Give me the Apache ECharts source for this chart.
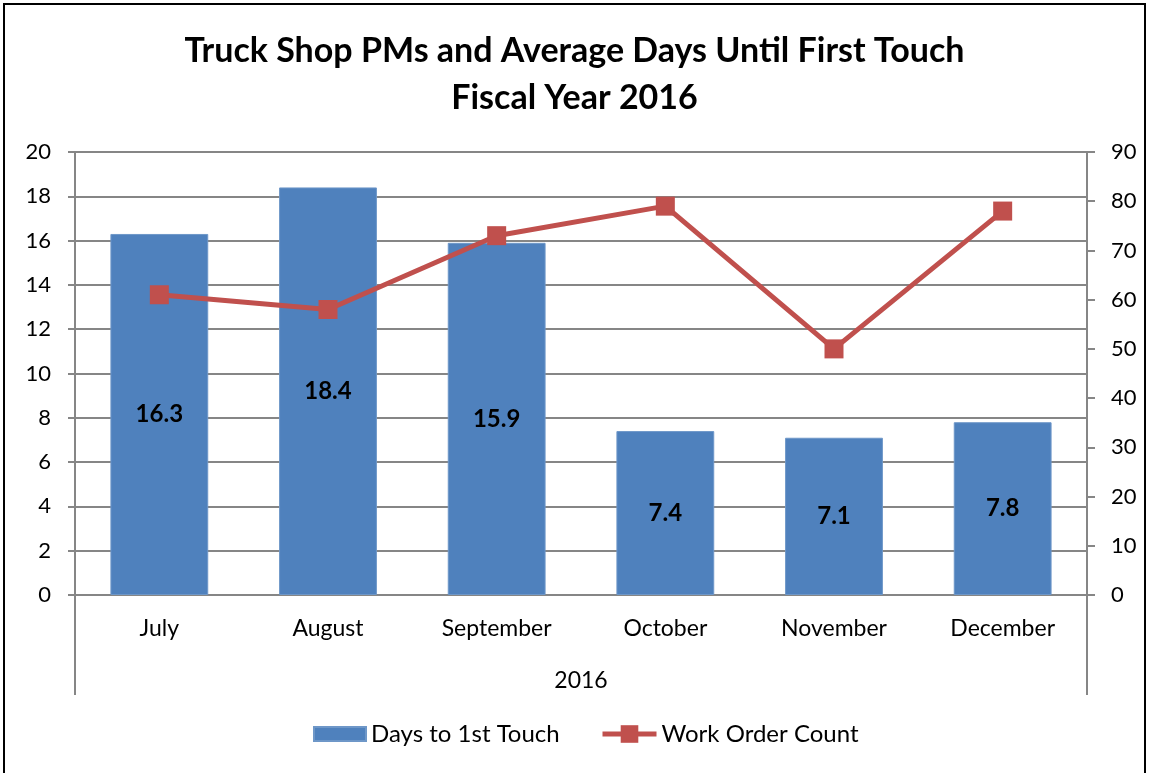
<!DOCTYPE html>
<html>
<head>
<meta charset="utf-8">
<script src="https://cdn.jsdelivr.net/npm/echarts@6/dist/echarts.min.js"></script>
<style>
  html, body { margin: 0; padding: 0; background: #fff; }
  #main { width: 1149px; height: 773px; }
</style>
</head>
<body>
<div id="main"></div>
<script>
  // data
  var months = ['July', 'August', 'September', 'October', 'November', 'December'];
  var yearLabel = ['2016'];
  var daysToTouch = [16.3, 18.4, 15.9, 7.4, 7.1, 7.8];
  var workOrders = [61, 58, 73, 79, 50, 78];

  var FONT = 'Lato';
  var gridGray = '#868686';

  var myChart = echarts.init(document.getElementById('main'));

  var option = {
    backgroundColor: '#fff',
    textStyle: { fontFamily: FONT },
    animation: false,
    title: {
      text: 'Truck Shop PMs and Average Days Until First Touch\nFiscal Year 2016',
      left: 'center',
      top: 23,
      textStyle: {
        fontFamily: FONT,
        fontSize: 34,
        fontWeight: 'bold',
        color: '#000',
        lineHeight: 47
      }
    },
    graphic: [{
      type: 'rect',
      shape: { x: 4, y: 4, width: 1141, height: 820 },
      style: { fill: 'none', stroke: '#000', lineWidth: 2 },
      silent: true
    }],
    // two legends so the bar swatch and the line marker can have different heights
    legend: [{
      left: 308,
      top: 717,
      itemWidth: 52,
      itemHeight: 14,
      icon: 'rect',
      textStyle: { fontFamily: FONT, fontSize: 24, color: '#000' },
      data: ['Days to 1st Touch']
    }, {
      left: 595,
      top: 717,
      itemWidth: 54,
      itemHeight: 22,
      itemGap: 5,
      lineStyle: { width: 5 },
      textStyle: { fontFamily: FONT, fontSize: 24, color: '#000' },
      data: ['Work Order Count']
    }],
    grid: {
      left: 75,
      right: 62,
      top: 152,
      bottom: 178
    },
    xAxis: [{
      type: 'category',
      data: months,
      axisLine: { show: true, lineStyle: { color: gridGray, width: 2 } },
      axisTick: { show: false },
      axisLabel: { fontFamily: FONT, fontSize: 23, color: '#000', margin: 22 }
    }, {
      type: 'category',
      data: yearLabel,
      position: 'bottom',
      axisLine: { show: false },
      axisTick: { show: true, length: 100, lineStyle: { color: gridGray, width: 2 } },
      axisLabel: { fontFamily: FONT, fontSize: 23, color: '#000', margin: 74 },
      splitLine: { show: false }
    }],
    yAxis: [{
      type: 'value',
      min: 0,
      max: 20,
      interval: 2,
      axisLine: { show: true, lineStyle: { color: gridGray, width: 2 } },
      axisTick: { show: true, length: 7, lineStyle: { color: gridGray, width: 2 } },
      axisLabel: { fontFamily: FONT, fontSize: 22, color: '#000', margin: 24 },
      splitLine: { show: true, lineStyle: { color: gridGray, width: 2 } }
    }, {
      type: 'value',
      min: 0,
      max: 90,
      interval: 10,
      position: 'right',
      axisLine: { show: true, lineStyle: { color: gridGray, width: 2 } },
      axisTick: { show: true, length: 8, lineStyle: { color: gridGray, width: 2 } },
      axisLabel: { fontFamily: FONT, fontSize: 22, color: '#000', margin: 24 },
      splitLine: { show: false }
    }],
    series: [{
      name: 'Days to 1st Touch',
      type: 'bar',
      xAxisIndex: 0,
      yAxisIndex: 0,
      barCategoryGap: '42%',
      data: daysToTouch,
      itemStyle: { color: '#4F81BD', borderColor: '#6E97C8', borderWidth: 1 },
      label: {
        show: true,
        position: 'inside',
        fontFamily: FONT,
        fontSize: 24,
        fontWeight: 'bold',
        color: '#000',
        formatter: function (p) { return p.value.toFixed(1); }
      },
      z: 2
    }, {
      name: 'Work Order Count',
      type: 'line',
      xAxisIndex: 0,
      yAxisIndex: 1,
      data: workOrders,
      symbol: 'rect',
      symbolSize: 19,
      lineStyle: { color: '#C0504D', width: 5 },
      itemStyle: { color: '#C0504D' },
      z: 3
    }]
  };

  myChart.setOption(option);
</script>
</body>
</html>
